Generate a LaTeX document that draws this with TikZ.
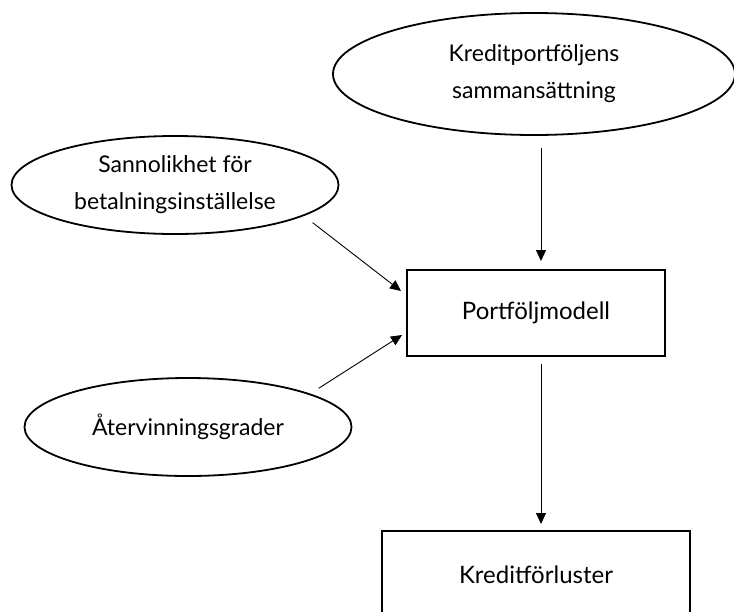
\documentclass[tikz,border=0pt]{standalone}
\usepackage{fontspec}
\setmainfont{Lato}
\usetikzlibrary{shapes.geometric,arrows.meta}

\begin{document}
\begin{tikzpicture}[x=1pt,y=-1pt,
		faktor/.style={ellipse, draw, line width=1.8pt, inner sep=0pt, outer sep=0pt, align=center,
			font=\fontsize{23}{37}\selectfont},
		modell/.style={rectangle, draw, line width=2.2pt, inner sep=0pt, outer sep=0pt,
			font=\fontsize{24}{37}\selectfont},
		pil/.style={-{Triangle[length=11pt,width=10pt]}, line width=0.9pt}]
				\useasboundingbox (0,0) rectangle (734,611);
				\node[faktor, minimum width=402pt, minimum height=122pt] (kredport) at (534,74) {Kreditportföljens\\sammansättning};
				\node[faktor, minimum width=327pt, minimum height=98pt] (sannolik) at (175,185) {Sannolikhet för\\betalningsinställelse};
				\node[faktor, minimum width=327pt, minimum height=98pt] (atervinn) at (188,427) {Återvinningsgrader};
				\node[modell, minimum width=258pt, minimum height=86pt] (portmod) at (536,313) {Portföljmodell};
				\node[modell, minimum width=308pt, minimum height=88pt] (kredforl) at (536,575) {Kreditförluster};
				\draw[pil] ([shift={(7,13)}]kredport.south) -- ([shift={(5,-9)}]portmod.north);
				\draw[pil] ([shift={(22,3)}]sannolik.south east) -- ([shift={(-6,-22)}]portmod.west);
				\draw[pil] ([shift={(15,-4)}]atervinn.north east) -- ([shift={(-5,22)}]portmod.west);
				\draw[pil] ([shift={(5,8)}]portmod.south) -- ([shift={(5,-7)}]kredforl.north);
			\end{tikzpicture}
\end{document}
